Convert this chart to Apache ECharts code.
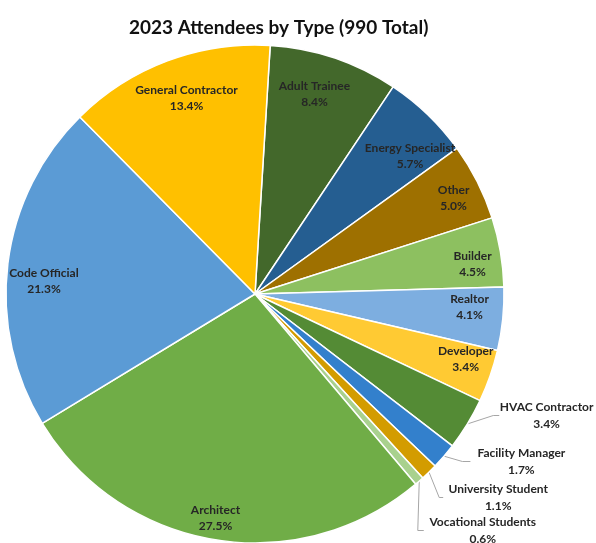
<!DOCTYPE html>
<html>
<head>
<meta charset="utf-8">
<script src="https://cdn.jsdelivr.net/npm/echarts@6/dist/echarts.min.js"></script>
<style>
html,body{margin:0;padding:0;background:#fff;}
#chart{width:596px;height:543px;}
</style>
</head>
<body>
<div id="chart"></div>
<script>
const categories = ['Adult Trainee','Energy Specialist','Other','Builder','Realtor','Developer','HVAC Contractor','Facility Manager','University Student','Vocational Students','Architect','Code Official','General Contractor'];
const percents = [8.4,5.7,5.0,4.5,4.1,3.4,3.4,1.7,1.1,0.6,27.5,21.3,13.4];
const colors = ['#43682B','#255E91','#9E7000','#8DC060','#7DAEE0','#FFCA33','#548B35','#3380CC','#D39C00','#A9D18E','#70AD47','#5B9BD5','#FFC000'];

const FONT = 'Lato';
const FS = 12;
const R = 249;
const CENTER = [255, 294];

// label style tweaks (Excel "best fit" placement)
const labelOffsets = {
  'Adult Trainee': [-9, 4], 'Energy Specialist': [6, 17], 'Other': [7, 1], 'Builder': [6, 6],
  'Realtor': [1, -8], 'Developer': [8, -6], 'Architect': [-5, 12], 'Code Official': [2, 13],
  'General Contractor': [7, 5]
};
const outsideStyle = {
  'HVAC Contractor': {w: 96, len: 30, len2: 6, dx: -7, dy: -19},
  'Facility Manager': {w: 92, len: 14, len2: 8, dx: -9, dy: -4},
  'University Student': {w: 100, len: 16, len2: 4, dx: -15, dy: 1},
  'Vocational Students': {w: 108, len: 22, len2: 6, dx: -16, dy: 3}
};

const chart = echarts.init(document.getElementById('chart'), null, {renderer:'canvas'});

const fmt = p => p.name + '\n' + p.value.toFixed(1) + '%';
const fmtRich = p => '{a|' + p.name + '}\n{a|' + p.value.toFixed(1) + '%}';
const richA = w => ({fontFamily: FONT, fontWeight: 'bold', fontSize: FS, color: '#262626', lineHeight: 17, width: w, align: 'center'});

const mainData = categories.map((c,i) => {
  const o = outsideStyle[c];
  const d = {name: c, value: percents[i], itemStyle: {color: colors[i]}};
  if (o) {
    d.label = {show: true, rich: {a: richA(o.w)}};
    d.labelLine = {show: true, length: o.len, length2: o.len2};
  } else {
    d.label = {show: false};
    d.labelLine = {show: false};
  }
  return d;
});
const overlayData = categories.map((c,i) => ({
  name: c, value: percents[i],
  label: {show: !outsideStyle[c], offset: labelOffsets[c] || [0,0]}
}));

chart.setOption({
  animation: false,
  title: {
    text: '2023 Attendees by Type (990 Total)',
    left: 124, top: 13,
    textStyle: {fontFamily: FONT, fontWeight: 'bold', fontSize: 19, color: '#111'}
  },
  series: [
    {
      type: 'pie',
      center: CENTER,
      radius: [0, R],
      startAngle: 86.5,
      clockwise: true,
      silent: true,
      avoidLabelOverlap: true,
      itemStyle: {borderColor: '#fff', borderWidth: 1.5},
      label: {
        position: 'outside',
        formatter: fmtRich,
        overflow: 'none',
        bleedMargin: 0,
        edgeDistance: 0,
        fontFamily: FONT, fontWeight: 'bold', fontSize: FS, color: '#262626'
      },
      labelLine: {lineStyle: {color: '#A6A6A6', width: 1}},
      labelLayout: function (p) {
        const o = outsideStyle[categories[p.dataIndex]];
        if (!o) return {};
        const res = {dx: o.dx, dy: o.dy};
        const pts = p.labelLinePoints;
        if (pts && pts.length >= 3) {
          const end = [pts[2][0] + o.dx, pts[2][1] + o.dy];
          const mid = [end[0] - o.len2, end[1]];
          res.labelLinePoints = [pts[0].slice(), mid, end];
        }
        return res;
      },
      data: mainData
    },
    {
      type: 'pie',
      center: CENTER,
      radius: [R*0.7, R],
      startAngle: 86.5,
      clockwise: true,
      silent: true,
      itemStyle: {color: 'rgba(0,0,0,0)'},
      label: {
        position: 'inside',
        formatter: fmt,
        fontFamily: FONT, fontWeight: 'bold', fontSize: FS, color: '#262626', lineHeight: 16, align: 'center'
      },
      labelLine: {show: false},
      data: overlayData
    }
  ]
});
</script>
</body>
</html>
